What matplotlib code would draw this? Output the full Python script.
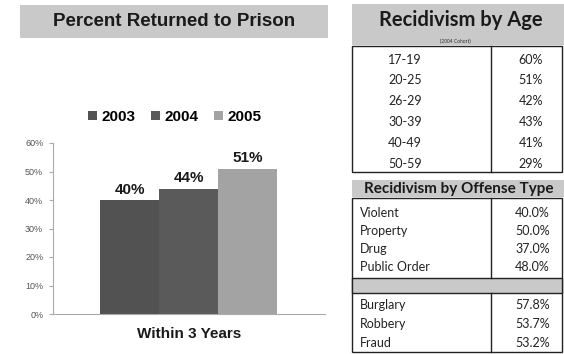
import matplotlib
matplotlib.use("Agg")
import matplotlib.pyplot as plt
from matplotlib.patches import Rectangle
from matplotlib.lines import Line2D

# ---- data ----
years = ["2003", "2004", "2005"]
returned_pct = [40, 44, 51]
bar_colors = ["#525252", "#5a5a5a", "#a3a3a3"]
yticks = [0, 10, 20, 30, 40, 50, 60]

age_groups = ["17-19", "20-25", "26-29", "30-39", "40-49", "50-59"]
age_pct = [60, 51, 42, 43, 41, 29]

offense_types = ["Violent", "Property", "Drug", "Public Order"]
offense_pct = [40.0, 50.0, 37.0, 48.0]
crimes = ["Burglary", "Robbery", "Fraud"]
crime_pct = [57.8, 53.7, 53.2]

W, H = 564, 354
fig = plt.figure(figsize=(W / 100, H / 100), dpi=100)
fig.patch.set_facecolor("white")

def fx(px):
    return px / W

def fy(py):
    return 1 - py / H

def rect(x0, y0, x1, y1, **kw):
    r = Rectangle((fx(x0), fy(y1)), fx(x1) - fx(x0), fy(y0) - fy(y1),
                  transform=fig.transFigure, **kw)
    fig.patches.append(r)

def line(x0, y0, x1, y1, **kw):
    fig.add_artist(Line2D([fx(x0), fx(x1)], [fy(y0), fy(y1)],
                          transform=fig.transFigure, **kw))

TF = "Liberation Sans"
CF = "Lato"
ROWFS = 9

# ---- left chart ----
rect(20, 5, 328, 38, facecolor="#c9c9c9", edgecolor="none")
fig.text(fx(174), fy(21), "Percent Returned to Prison", ha="center", va="center",
         fontsize=13.5, fontweight="bold", family=TF, color="#1a1a1a")

ax = fig.add_axes([fx(53), fy(314), fx(325) - fx(53), fy(143) - fy(314)])
xs = list(range(len(years)))
bars = ax.bar(xs, returned_pct, width=1.0, color=bar_colors, edgecolor="none")
for x, v in zip(xs, returned_pct):
    ax.text(x, v + 1.2, f"{v}%", ha="center", va="bottom", fontsize=11,
            fontweight="bold", family=TF, color="#1a1a1a")
ax.set_xlim(-1.3, 3.31)
ax.set_ylim(0, 60)
ax.set_yticks(yticks)
ax.set_yticklabels([f"{t}%" for t in yticks], fontsize=6.5, color="#555555", family=TF)
ax.set_xticks([])
for s in ["top", "right"]:
    ax.spines[s].set_visible(False)
ax.spines["left"].set_color("#aaaaaa")
ax.spines["bottom"].set_color("#aaaaaa")
ax.tick_params(axis="y", length=3, color="#aaaaaa", pad=4)
ax.set_xlabel("Within 3 Years", fontsize=11, fontweight="bold", family=TF,
              color="#1a1a1a", labelpad=9)

handles = [Rectangle((0, 0), 1, 1, facecolor=c) for c in bar_colors]
fig.legend(handles, years, loc="center", bbox_to_anchor=(fx(175), fy(117)),
           ncol=3, frameon=False, prop={"family": TF, "weight": "bold", "size": 11},
           handlelength=0.6, handleheight=0.6, handletextpad=0.3, columnspacing=1.0)

# ---- age table ----
rect(352, 4, 564, 45, facecolor="#c9c9c9", edgecolor="none")
fig.text(fx(461), fy(20), "Recidivism by Age", ha="center", va="center",
         fontsize=14.5, fontweight="bold", family=CF, color="#1a1a1a")
fig.text(fx(455), fy(41), "(2004 Cohort)", ha="center", va="center",
         fontsize=3.5, family=CF, color="#333333")
rect(352, 46, 562, 172, facecolor="none", edgecolor="#222222", linewidth=1)
line(491, 46, 491, 172, color="#222222", linewidth=1)
age_y = [60, 80, 101, 122, 143, 164]
for lab, v, yy in zip(age_groups, age_pct, age_y):
    fig.text(fx(405), fy(yy), lab, ha="center", va="center", fontsize=ROWFS,
             family=CF, color="#222222")
    fig.text(fx(531), fy(yy), f"{v}%", ha="center", va="center", fontsize=ROWFS,
             family=CF, color="#222222")

# ---- offense table ----
rect(352, 180, 564, 197, facecolor="#c9c9c9", edgecolor="none")
fig.text(fx(459), fy(189), "Recidivism by Offense Type", ha="center", va="center",
         fontsize=11, fontweight="bold", family=CF, color="#1a1a1a")
rect(352, 198, 562, 352, facecolor="none", edgecolor="#222222", linewidth=1)
line(491, 198, 491, 278, color="#222222", linewidth=1)
line(491, 293, 491, 352, color="#222222", linewidth=1)
rect(352, 278, 562, 293, facecolor="#c9c9c9", edgecolor="#222222", linewidth=1)
off_y = [213, 231, 249, 267]
for lab, v, yy in zip(offense_types, offense_pct, off_y):
    fig.text(fx(360), fy(yy), lab, ha="left", va="center", fontsize=ROWFS,
             family=CF, color="#222222")
    fig.text(fx(550), fy(yy), f"{v:.1f}%", ha="right", va="center", fontsize=ROWFS,
             family=CF, color="#222222")
crime_y = [305, 324, 343]
for lab, v, yy in zip(crimes, crime_pct, crime_y):
    fig.text(fx(360), fy(yy), lab, ha="left", va="center", fontsize=ROWFS,
             family=CF, color="#222222")
    fig.text(fx(550), fy(yy), f"{v:.1f}%", ha="right", va="center", fontsize=ROWFS,
             family=CF, color="#222222")

fig.savefig("out.png", dpi=100, facecolor="white")
